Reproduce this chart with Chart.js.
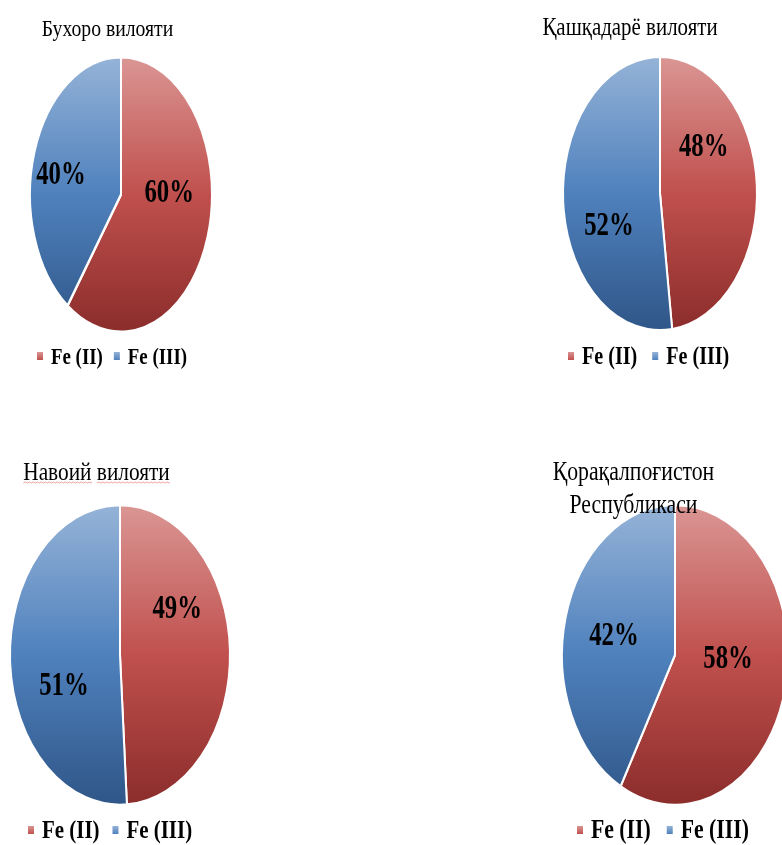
<!DOCTYPE html>
<html>
<head>
<meta charset="utf-8">
<script src="https://cdn.jsdelivr.net/npm/chart.js@4/dist/chart.umd.min.js"></script>
<style>
  html, body { margin: 0; padding: 0; background: #fff; overflow: hidden; }
  #page { position: relative; width: 782px; height: 845px; }
  #page canvas { position: absolute; }
</style>
</head>
<body>
<div id="page">
  <canvas id="c1" width="391" height="423" style="left:0;top:0"></canvas>
  <canvas id="c2" width="391" height="423" style="left:391px;top:0"></canvas>
  <canvas id="c3" width="391" height="423" style="left:0;top:422px"></canvas>
  <canvas id="c4" width="391" height="423" style="left:391px;top:422px"></canvas>
</div>
<script>
// Fe(II) / Fe(III) улуши, %
var labels = ['Fe (II)', 'Fe (III)'];
var titles = [['Бухоро вилояти'], ['Қашқадарё вилояти'], ['Навоий вилояти'], ['Қорақалпоғистон', 'Республикаси']];
var buxoro = [60, 40];
var qashqadaryo = [48, 52];
var navoiy = [49, 51];
var qoraqalpogiston = [58, 42];
var series = [buxoro, qashqadaryo, navoiy, qoraqalpogiston];

// gradient stops: top, middle, bottom
var reds = ['#da9694', '#c0504d', '#8b2d2b'];
var blues = ['#95b3d7', '#4f81bd', '#2f5688'];
var SX = 0.82;       // narrow text
var SX_VALUE = 0.75; // narrower still for the percentages

// placement of every pie on the page (page pixels)
var layouts = [
  { id: 'c1', left: 0, top: 0, cx: 121, cy: 194.5, rx: 91, ry: 137.5,
    title: { x: 107.5, y: 36, size: 24, lead: 33 }, legend: { x: 37, y: 364, size: 23, gap: 11 },
    spots: [[0.53, -0.025], [-0.66, -0.16]] },
  { id: 'c2', left: 391, top: 0, cx: 660, cy: 193.5, rx: 97, ry: 137,
    title: { x: 630, y: 35, size: 25.5, lead: 33 }, legend: { x: 568, y: 364, size: 24.5, gap: 15 },
    spots: [[0.45, -0.354], [-0.526, 0.223]] },
  { id: 'c3', left: 0, top: 422, cx: 120, cy: 655, rx: 110, ry: 150,
    title: { x: 96.5, y: 480, size: 26, lead: 33, underline: true }, legend: { x: 28, y: 838, size: 25.5, gap: 13 },
    spots: [[0.52, -0.32], [-0.51, 0.19]] },
  { id: 'c4', left: 391, top: 422, cx: 675, cy: 655, rx: 113, ry: 150,
    title: { x: 633.5, y: 480, size: 26.5, lead: 33 }, legend: { x: 577, y: 838, size: 26.5, gap: 16 },
    spots: [[0.47, 0.013], [-0.54, -0.14]] }
];

function squeezedText(ctx, text, x, y, font, align, sx) {
  ctx.save();
  ctx.font = font;
  ctx.fillStyle = '#000';
  ctx.textAlign = align;
  ctx.textBaseline = 'alphabetic';
  ctx.translate(x, y);
  ctx.scale(sx || SX, 1);
  ctx.fillText(text, 0, 0);
  ctx.restore();
}

function textWidth(ctx, text, font) {
  ctx.save();
  ctx.font = font;
  var w = ctx.measureText(text).width * SX;
  ctx.restore();
  return w;
}

function wavyLine(ctx, x0, x1, y) {
  ctx.save();
  ctx.strokeStyle = 'rgba(226, 90, 90, 0.55)';
  ctx.lineWidth = 1;
  ctx.beginPath();
  ctx.moveTo(x0, y);
  for (var x = x0, up = true; x < x1; x += 2, up = !up) {
    ctx.lineTo(Math.min(x + 2, x1), up ? y - 1 : y);
  }
  ctx.stroke();
  ctx.restore();
}

function makeOverlay(lay, idx) {
  return {
    id: 'overlay' + idx,
    // stretch the round pie into an upright ellipse
    beforeDatasetsDraw: function(chart) {
      var arc = chart.getDatasetMeta(0).data[0];
      var ctx = chart.ctx;
      ctx.save();
      ctx.translate(arc.x, arc.y);
      ctx.scale(1, lay.ry / lay.rx);
      ctx.translate(-arc.x, -arc.y);
    },
    afterDatasetsDraw: function(chart) {
      chart.ctx.restore();
    },
    afterDraw: function(chart) {
      var ctx = chart.ctx;
      var meta = chart.getDatasetMeta(0);
      var cx = meta.data[0].x, cy = meta.data[0].y;
      var values = chart.data.datasets[0].data;

      // percentage labels
      var lf = 'bold 33px "Liberation Serif", "Times New Roman", serif';
      values.forEach(function(v, i) {
        var s = lay.spots[i];
        squeezedText(ctx, v + '%', cx + s[0] * lay.rx, cy + s[1] * lay.ry + 11, lf, 'center', SX_VALUE);
      });

      // title
      var t = lay.title;
      var tf = t.size + 'px "Liberation Serif", "Times New Roman", serif';
      titles[idx].forEach(function(line, j) {
        var ty = t.y - lay.top + j * t.lead;
        var tx = t.x - lay.left;
        squeezedText(ctx, line, tx, ty, tf, 'center');
        if (t.underline) {
          var full = textWidth(ctx, line, tf);
          var sp = textWidth(ctx, ' ', tf);
          var x = tx - full / 2;
          line.split(' ').forEach(function(word) {
            var w = textWidth(ctx, word, tf);
            wavyLine(ctx, x, x + w, ty + 3);
            x += w + sp;
          });
        }
      });

      // legend
      var g = lay.legend;
      var gf = 'bold ' + g.size + 'px "Liberation Serif", "Times New Roman", serif';
      var x = g.x - lay.left;
      var by = g.y - lay.top;
      chart.data.labels.forEach(function(name, i) {
        var cols = i === 0 ? reds : blues;
        var grad = ctx.createLinearGradient(0, by - 12, 0, by - 4);
        grad.addColorStop(0, cols[0]);
        grad.addColorStop(1, cols[1]);
        ctx.fillStyle = grad;
        ctx.fillRect(x, by - 12, 6, 8);
        squeezedText(ctx, name, x + 14, by, gf, 'left');
        x += 14 + textWidth(ctx, name, gf) + g.gap;
      });
    }
  };
}

layouts.forEach(function(lay, idx) {
  var canvas = document.getElementById(lay.id);
  var W = canvas.width, H = canvas.height;
  var lcx = lay.cx - lay.left, lcy = lay.cy - lay.top;
  var hw = Math.min(lay.rx, lcx, W - lcx);
  var hh = Math.min(lay.ry, lcy, H - lcy);

  function sliceFill(c) {
    var cols = c.dataIndex === 0 ? reds : blues;
    var grad = c.chart.ctx.createLinearGradient(0, lcy - lay.rx, 0, lcy + lay.rx);
    grad.addColorStop(0, cols[0]);
    grad.addColorStop(0.5, cols[1]);
    grad.addColorStop(1, cols[2]);
    return grad;
  }

  new Chart(canvas, {
    type: 'pie',
    data: {
      labels: labels,
      datasets: [{
        data: series[idx],
        backgroundColor: sliceFill,
        borderColor: '#ffffff',
        borderWidth: 2,
        radius: lay.rx,
        clip: false
      }]
    },
    options: {
      responsive: false,
      animation: false,
      events: [],
      layout: {
        padding: { left: lcx - hw, right: W - lcx - hw, top: lcy - hh, bottom: H - lcy - hh }
      },
      plugins: {
        legend: { display: false },
        title: { display: false },
        tooltip: { enabled: false }
      }
    },
    plugins: [makeOverlay(lay, idx)]
  });
});
</script>
</body>
</html>
